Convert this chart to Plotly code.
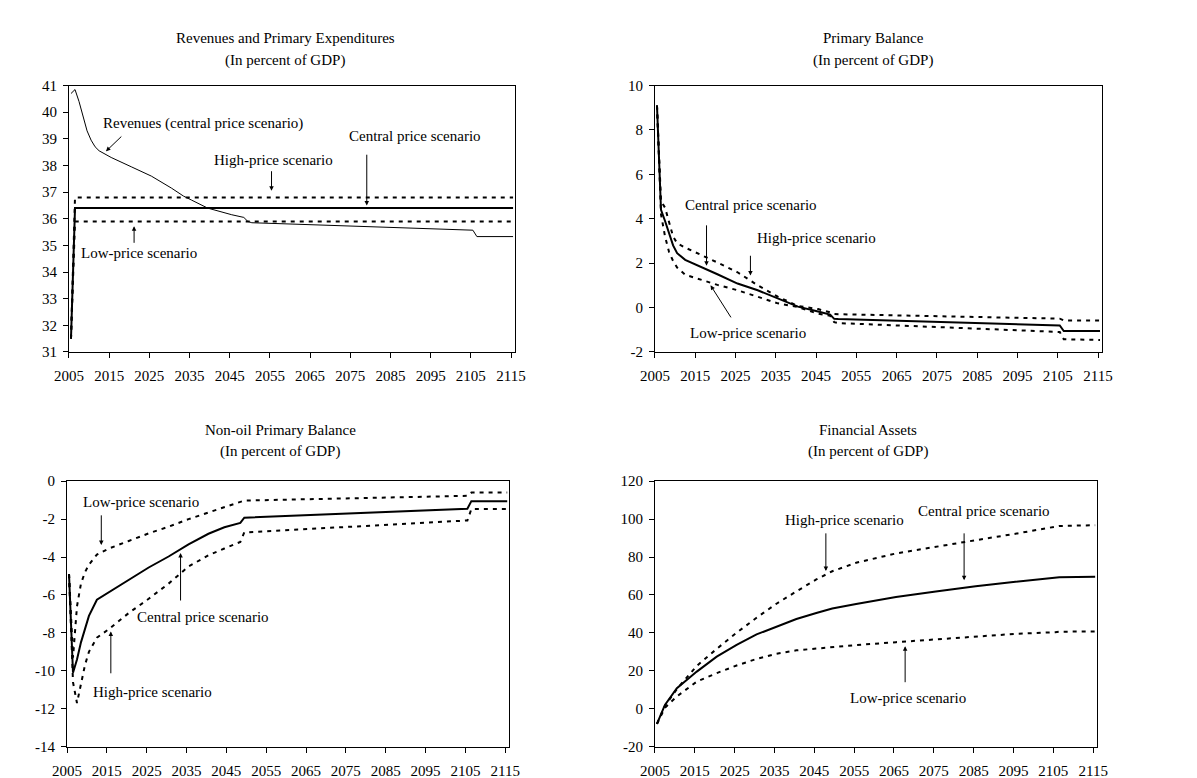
import plotly.graph_objects as go

FONT = "Liberation Serif"

# ---------------- data ----------------
x_ticks = [2005, 2015, 2025, 2035, 2045, 2055, 2065, 2075, 2085, 2095, 2105, 2115]
x_ticktext = [str(v) for v in x_ticks]

# Panel 1: Revenues and primary expenditures
rev_years = [2005, 2006, 2007, 2008, 2009, 2010, 2011, 2012, 2015, 2020, 2025, 2030, 2033, 2035,
             2039, 2045, 2048, 2049, 2050, 2060, 2070, 2080, 2090, 2100, 2105, 2106, 2115]
rev_central = [40.7, 40.85, 40.4, 39.8, 39.3, 38.95, 38.7, 38.55, 38.3, 37.95, 37.6, 37.15, 36.85, 36.7,
               36.4, 36.15, 36.05, 35.9, 35.85, 35.8, 35.75, 35.7, 35.65, 35.6, 35.57, 35.33, 35.33]
exp_years = [2005, 2006, 2115]
exp_central = [31.5, 36.4, 36.4]
exp_high = [31.5, 36.8, 36.8]
exp_low = [31.5, 35.9, 35.9]
p1_yticks = [31, 32, 33, 34, 35, 36, 37, 38, 39, 40, 41]

# Panel 2: Primary balance
pb_years = [2005, 2006, 2007, 2008, 2009, 2010, 2012, 2020, 2025, 2030, 2035, 2040, 2045, 2048,
            2049, 2050, 2105, 2106, 2115]
pb_central = [9.1, 4.4, 3.9, 3.3, 2.8, 2.45, 2.15, 1.5, 1.08, 0.78, 0.41, 0.04, -0.18, -0.32,
              -0.51, -0.52, -0.81, -1.06, -1.06]
pb_high = [9.1, 4.8, 4.5, 3.8, 3.2, 2.9, 2.7, 2.03, 1.59, 1.0, 0.49, 0.07, -0.07, -0.22,
           -0.29, -0.3, -0.5, -0.58, -0.58]
pb_low = [9.1, 4.2, 3.2, 2.5, 2.1, 1.8, 1.48, 1.02, 0.78, 0.5, 0.19, 0.02, -0.28, -0.37,
          -0.66, -0.7, -1.1, -1.43, -1.46]
p2_yticks = [-2, 0, 2, 4, 6, 8, 10]

# Panel 3: Non-oil primary balance
nob_years = [2005, 2006, 2007, 2008, 2009, 2010, 2012, 2015, 2020, 2025, 2030, 2035, 2040, 2044,
             2048, 2049, 2105, 2106, 2115]
nob_central = [-4.9, -10.1, -9.4, -8.5, -7.8, -7.1, -6.25, -5.85, -5.18, -4.55, -3.97, -3.33, -2.77, -2.43,
               -2.2, -1.92, -1.45, -1.05, -1.05]
nob_low = [-4.9, -9.3, -6.6, -5.4, -4.8, -4.4, -3.87, -3.55, -3.15, -2.75, -2.4, -2.0, -1.65, -1.38,
           -1.12, -1.02, -0.77, -0.6, -0.6]
nob_high = [-4.9, -10.6, -11.7, -10.7, -9.7, -9.0, -8.25, -7.8, -6.95, -6.2, -5.4, -4.5, -3.9, -3.55,
            -3.2, -2.7, -2.07, -1.47, -1.47]
p3_yticks = [-14, -12, -10, -8, -6, -4, -2, 0]

# Panel 4: Financial assets
fa_years = [2005, 2007, 2010, 2015, 2020, 2025, 2030, 2035, 2040, 2045, 2049, 2055, 2065, 2075,
            2085, 2095, 2105, 2106, 2115]
fa_central = [-8, 2.0, 10.8, 19.6, 27.5, 33.7, 39.2, 43.4, 47.3, 50.5, 52.9, 55.3, 58.9, 61.8,
              64.6, 67.0, 68.9, 69.4, 69.6]
fa_high = [-8, 1.5, 10.4, 22.6, 31.6, 40.1, 48.0, 55.4, 61.9, 68.2, 72.5, 77.0, 81.9, 85.6,
           88.9, 92.3, 95.9, 96.4, 96.8]
fa_low = [-8, 0.5, 6.5, 14.3, 18.8, 22.8, 26.3, 29.0, 30.8, 31.8, 32.6, 33.6, 35.1, 36.7,
          38.2, 39.5, 40.4, 40.6, 40.8]
p4_yticks = [-20, 0, 20, 40, 60, 80, 100, 120]

# ---------------- figure ----------------
W, H = 1197, 778
fig = go.Figure()

SOLID = dict(color="black", width=2)
THIN = dict(color="black", width=1)
DASH = dict(color="black", width=2, dash="4px,5px")

# Excel-style category axis: each year is plotted in the middle of its category slot
OFF = 0.5


def add(x, y, line, ax):
    fig.add_trace(go.Scatter(x=[v + OFF for v in x], y=y, mode="lines", line=line,
                             xaxis="x" + ax, yaxis="y" + ax, showlegend=False, hoverinfo="skip"))


add(rev_years, rev_central, THIN, "")
add(exp_years, exp_high, DASH, "")
add(exp_years, exp_low, DASH, "")
add(exp_years, exp_central, SOLID, "")

add(pb_years, pb_high, DASH, "2")
add(pb_years, pb_low, DASH, "2")
add(pb_years, pb_central, SOLID, "2")

add(nob_years, nob_low, DASH, "3")
add(nob_years, nob_high, DASH, "3")
add(nob_years, nob_central, SOLID, "3")

add(fa_years, fa_high, DASH, "4")
add(fa_years, fa_low, DASH, "4")
add(fa_years, fa_central, SOLID, "4")


def px_x(a, b):
    return [a / W, b / W]


def px_y(top, bottom):
    return [1 - bottom / H, 1 - top / H]


TICKFONT = dict(family=FONT, size=15, color="black")


def xaxis(dom, anchor):
    return dict(domain=dom, anchor=anchor, range=[2005, 2116], tickvals=x_ticks, ticktext=x_ticktext,
                showline=True, linecolor="black", linewidth=1, mirror=True, ticks="outside",
                ticklen=5, tickcolor="black", showgrid=False, zeroline=False,
                tickfont=TICKFONT, ticklabelstandoff=5)


def yaxis(dom, anchor, ticks):
    return dict(domain=dom, anchor=anchor, range=[ticks[0], ticks[-1]], tickvals=ticks,
                ticktext=[str(t) for t in ticks],
                showline=True, linecolor="black", linewidth=1, mirror=True, ticks="outside",
                ticklen=5, tickcolor="black", showgrid=False, zeroline=False,
                tickfont=TICKFONT, ticklabelstandoff=3)


top_dom = px_y(71, 343)
bot_dom = px_y(475, 746)

fig.update_layout(
    width=W, height=H, margin=dict(l=0, r=0, t=0, b=0),
    paper_bgcolor="white", plot_bgcolor="white", showlegend=False,
    font=dict(family=FONT, color="black", size=15),
    xaxis=xaxis(px_x(47, 503), "y"), yaxis=yaxis(top_dom, "x", p1_yticks),
    xaxis2=xaxis(px_x(646, 1103), "y2"), yaxis2=yaxis(top_dom, "x2", p2_yticks),
    xaxis3=xaxis(px_x(45, 497), "y3"), yaxis3=yaxis(bot_dom, "x3", p3_yticks),
    xaxis4=xaxis(px_x(646, 1098), "y4"), yaxis4=yaxis(bot_dom, "x4", p4_yticks),
)

ann = []
TXT = dict(family=FONT, size=15, color="black")

# titles (paper pixel positions)
titles = [
    (268, 22, "Revenues and Primary Expenditures"), (268, 45, "(In percent of GDP)"),
    (869, 22, "Primary Balance"), (869, 45, "(In percent of GDP)"),
    (263, 423, "Non-oil Primary Balance"), (263, 445, "(In percent of GDP)"),
    (864, 423, "Financial Assets"), (864, 445, "(In percent of GDP)"),
]
for x, y, t in titles:
    ann.append(dict(x=x / W, y=1 - y / H, xref="paper", yref="paper", text=t, showarrow=False,
                    xanchor="center", yanchor="middle", font=TXT))


def label(ax, x, y, t):
    ann.append(dict(x=x, y=y, xref="x" + ax, yref="y" + ax, text=t, showarrow=False,
                    xanchor="center", yanchor="middle", font=TXT))


def arrow(ax, x0, y0, x1, y1):
    ann.append(dict(x=x1, y=y1, ax=x0, ay=y0, xref="x" + ax, yref="y" + ax,
                    axref="x" + ax, ayref="y" + ax, text="", showarrow=True,
                    arrowhead=2, arrowsize=0.9, arrowwidth=1, arrowcolor="black", standoff=0))


# Panel 1
label("", 2038.4, 39.57, "Revenues (central price scenario)")
arrow("", 2018.4, 39.14, 2014.2, 38.53)
label("", 2055.8, 38.2, "High-price scenario")
arrow("", 2055.4, 37.84, 2055.4, 37.05)
label("", 2091.0, 39.12, "Central price scenario")
arrow("", 2079.1, 38.46, 2079.1, 36.5)
label("", 2022.4, 34.7, "Low-price scenario")
arrow("", 2021.2, 35.04, 2021.2, 35.72)

# Panel 2
label("2", 2028.9, 4.63, "Central price scenario")
arrow("2", 2017.8, 3.77, 2017.8, 1.88)
label("2", 2045.2, 3.13, "High-price scenario")
arrow("2", 2028.7, 2.40, 2028.7, 1.44)
label("2", 2028.1, -1.13, "Low-price scenario")
arrow("2", 2024.1, -0.51, 2018.8, 1.0)

# Panel 3
label("3", 2023.6, -1.08, "Low-price scenario")
arrow("3", 2013.6, -1.72, 2013.6, -3.36)
label("3", 2039.1, -7.14, "Central price scenario")
arrow("3", 2033.5, -6.37, 2033.5, -3.79)
label("3", 2026.4, -11.1, "High-price scenario")
arrow("3", 2016.0, -10.21, 2016.0, -7.92)

# Panel 4
label("4", 2052.7, 99.3, "High-price scenario")
arrow("4", 2047.9, 93.3, 2047.9, 72.6)
label("4", 2087.5, 104.5, "Central price scenario")
arrow("4", 2082.6, 93.3, 2082.6, 67.8)
label("4", 2068.5, 5.8, "Low-price scenario")
arrow("4", 2067.8, 13.2, 2067.8, 33.0)

fig.update_layout(annotations=ann)
fig.write_html("out.html")
